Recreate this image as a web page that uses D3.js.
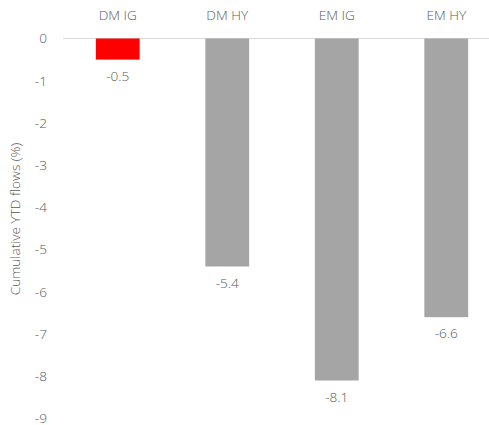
<!DOCTYPE html>
<html><head><meta charset="utf-8">
<script src="https://cdn.jsdelivr.net/npm/d3@7"></script>
<style>
html,body{margin:0;padding:0;background:#fff;}
text{font-family:"Open Sans",sans-serif;font-weight:300;fill:#595959;}
</style></head>
<body>
<svg id="chart" width="489" height="425"></svg>
<script>
const categories = ["DM IG", "DM HY", "EM IG", "EM HY"];
const values = [-0.5, -5.4, -8.1, -6.6];
const colors = ["#FF0000", "#A5A5A5", "#A5A5A5", "#A5A5A5"];
const yTicks = [0, -1, -2, -3, -4, -5, -6, -7, -8, -9];
const yTitle = "Cumulative YTD flows (%)";
const FS = "13.6px";

const svg = d3.select("#chart");
const x = d3.scaleBand().domain(categories).range([63, 501]).paddingInner(0.6).paddingOuter(0.3);
const y = d3.scaleLinear().domain([0, -9]).range([38.5, 418.5]);

// zero line
svg.append("line").attr("x1", 63).attr("x2", 489).attr("y1", y(0)).attr("y2", y(0))
  .attr("stroke", "#D9D9D9").attr("stroke-width", 1);

// y axis
const yAxis = d3.axisLeft(y).tickValues(yTicks).tickSize(0).tickPadding(0).tickFormat(d => String(d));
const gy = svg.append("g").attr("transform", "translate(47,0)").call(yAxis);
gy.select(".domain").remove();
gy.selectAll("text").style("font-size", FS).style("font-family", "'Open Sans',sans-serif").attr("fill", "#595959");

// category labels on top
const xAxis = d3.axisTop(x).tickSize(0).tickPadding(0);
const gx = svg.append("g").attr("transform", "translate(0,20)").call(xAxis);
gx.select(".domain").remove();
gx.selectAll("text").style("font-size", FS).style("font-family", "'Open Sans',sans-serif").attr("fill", "#595959").attr("dy", 0);

// bars
svg.selectAll("rect.bar").data(values).enter().append("rect")
  .attr("class", "bar")
  .attr("x", (d, i) => x(categories[i]))
  .attr("width", x.bandwidth())
  .attr("y", y(0))
  .attr("height", d => y(d) - y(0))
  .attr("fill", (d, i) => colors[i]);

// value labels
svg.selectAll("text.val").data(values).enter().append("text")
  .attr("class", "val")
  .attr("x", (d, i) => x(categories[i]) + x.bandwidth() / 2)
  .attr("y", d => y(d) + 21)
  .attr("text-anchor", "middle")
  .style("font-size", FS)
  .text(d => d.toFixed(1));

// y title
svg.append("text")
  .attr("transform", `translate(${20},${219}) rotate(-90)`)
  .attr("text-anchor", "middle")
  .style("font-size", FS)
  .text(yTitle);
</script>
</body></html>
